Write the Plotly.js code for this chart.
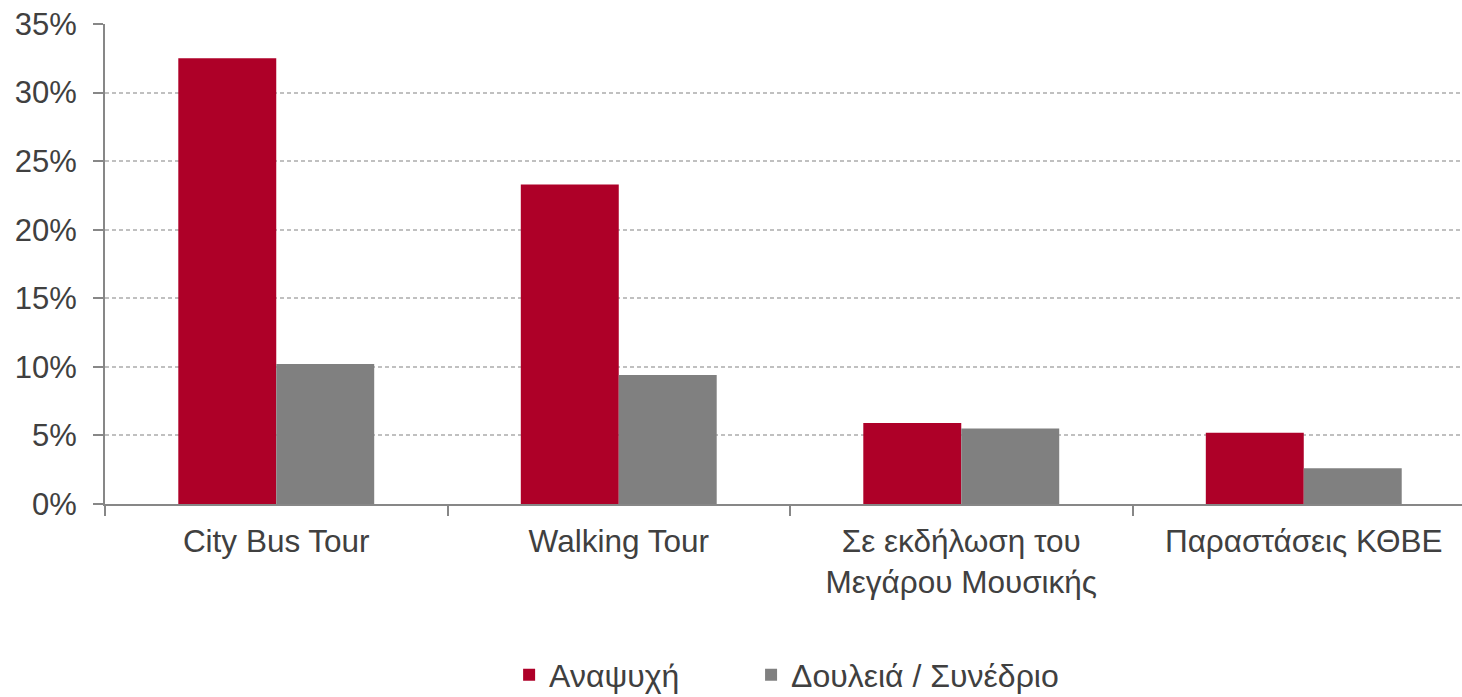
<!DOCTYPE html>
<html>
<head>
<meta charset="utf-8">
<script src="https://cdn.plot.ly/plotly-3.0.1.min.js"></script>
<style>html,body{margin:0;padding:0;background:#fff;}#chart{width:1462px;height:697px;}</style>
</head>
<body>
<div id="chart"></div>
<script>
const categories = ["City Bus Tour", "Walking Tour", "Σε εκδήλωση του<br>Μεγάρου Μουσικής", "Παραστάσεις ΚΘΒΕ"];
const seriesNames = ["Αναψυχή", "Δουλειά / Συνέδριο"];
const leisure = [0.325, 0.233, 0.059, 0.052];
const business = [0.102, 0.094, 0.055, 0.026];
const yTicks = [0, 0.05, 0.10, 0.15, 0.20, 0.25, 0.30, 0.35];
const yTickLabels = ["0%", "5%", "10%", "15%", "20%", "25%", "30%", "35%"];

const txt = '#404040';
const fontFam = 'Liberation Sans, Arial, sans-serif';

const traces = [
  {type: 'bar', name: seriesNames[0], x: categories, y: leisure, legend: 'legend',
   marker: {color: '#AE0028', line: {width: 0}}},
  {type: 'bar', name: seriesNames[1], x: categories, y: business, legend: 'legend2',
   marker: {color: '#808080', line: {width: 0}}}
];

const legendBase = {orientation: 'h', y: -0.356, yanchor: 'middle', xanchor: 'left',
  font: {size: 32, color: txt}, itemwidth: 30, bgcolor: 'rgba(0,0,0,0)'};

const layout = {
  width: 1462, height: 697,
  margin: {l: 105, r: 0, t: 24, b: 193, autoexpand: false},
  paper_bgcolor: '#fff', plot_bgcolor: '#fff',
  font: {family: fontFam, size: 32, color: txt},
  barmode: 'group', bargap: 0.428, bargroupgap: 0,
  showlegend: true,
  legend: Object.assign({}, legendBase, {x: 0.2978}),
  legend2: Object.assign({}, legendBase, {x: 0.4761}),
  xaxis: {
    type: 'category', range: [-0.5, 3.462], tickson: 'boundaries',
    ticks: 'outside', ticklen: 10, tickcolor: '#878787', tickwidth: 2,
    showline: true, linecolor: '#878787', linewidth: 2,
    showgrid: false, zeroline: false, automargin: false,
    ticklabelstandoff: 8,
    tickfont: {size: 31.5, color: txt, family: fontFam}
  },
  yaxis: {
    range: [0, 0.35], tickvals: yTicks, ticktext: yTickLabels,
    ticks: 'outside', ticklen: 10, tickcolor: '#878787', tickwidth: 2,
    showline: true, linecolor: '#878787', linewidth: 2,
    showgrid: true, gridcolor: '#C0C0C0', griddash: '4px,3px', gridwidth: 1.5,
    zeroline: false, automargin: false,
    ticklabelstandoff: 10,
    tickfont: {size: 31, color: txt, family: fontFam}
  }
};

Plotly.newPlot('chart', traces, layout, {displayModeBar: false});
</script>
</body>
</html>
